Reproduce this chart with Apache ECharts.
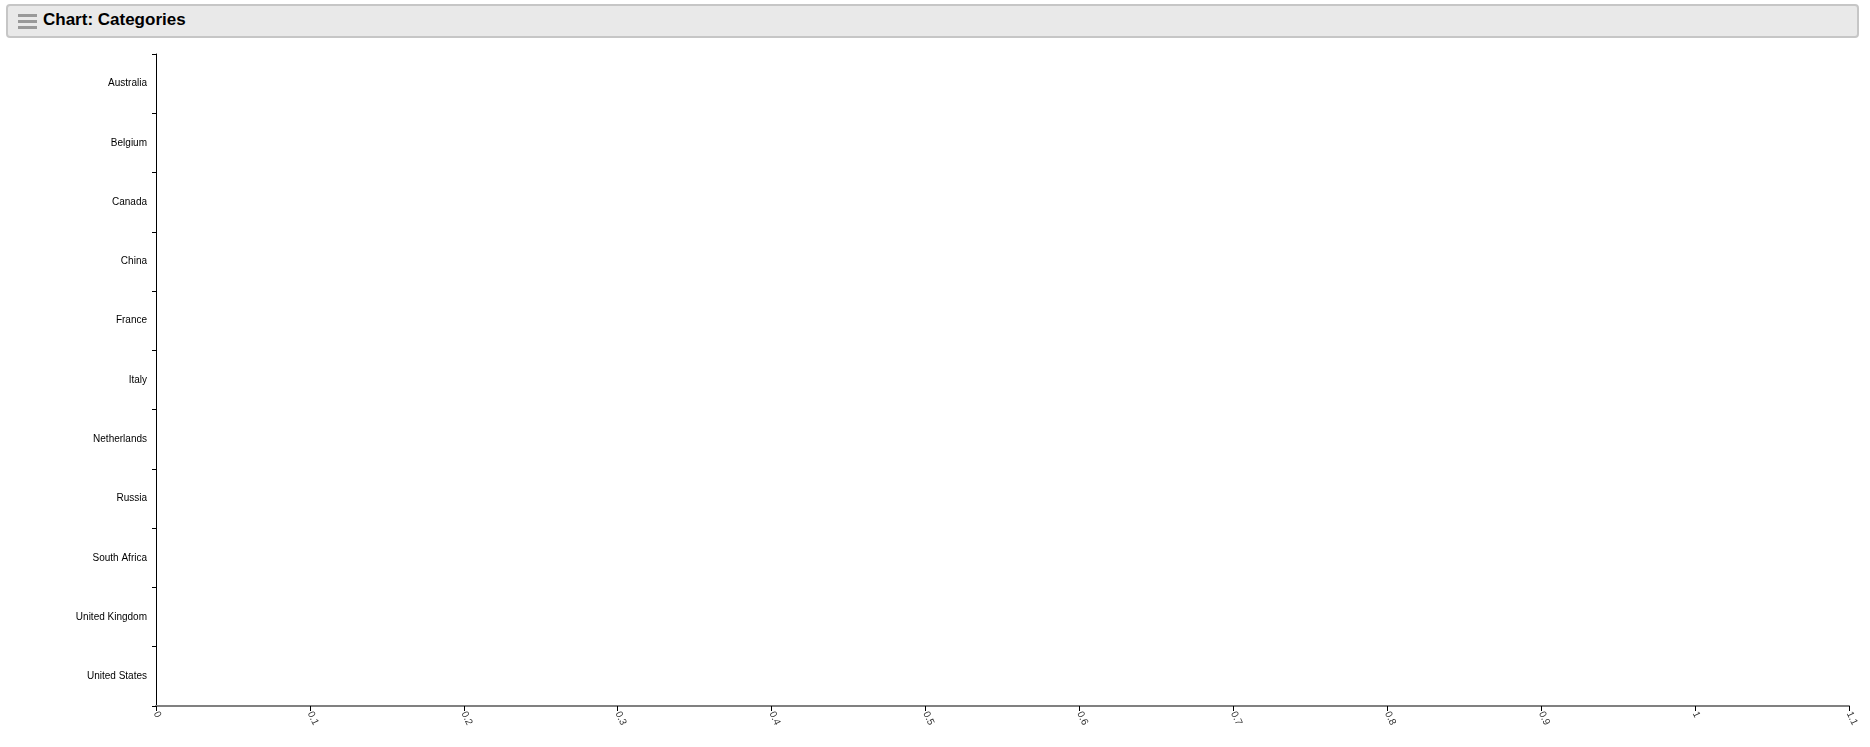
<!DOCTYPE html>
<html lang="en">
  <head>
    <title>Chart: Categories</title>
    <meta charset="UTF-8" />
    <script src="https://cdn.jsdelivr.net/npm/echarts@6/dist/echarts.min.js"></script>
    <style>
      body { margin: 0; background: #fff; font-family: "Liberation Sans", Arial, sans-serif; }
      #main { position: absolute; left: 0; top: 0; width: 1870px; height: 747px; }
      .head {
        position: absolute; left: 6px; top: 4px; width: 1849px; height: 30px;
        background: #e9e9e9; border: 2px solid #c6c6c6; border-radius: 4px; z-index: 2;
      }
      .burger { position: absolute; left: 10px; top: 8px; width: 19px; }
      .burger i { display: block; height: 3px; background: #999; margin-bottom: 3px; }
      .head span {
        position: absolute; left: 35px; top: 5px; font-size: 17px; line-height: 17px;
        font-weight: bold; color: #000;
      }
    </style>
  </head>
  <body>
    <div class="head">
      <div class="burger"><i></i><i></i><i></i></div>
      <span>Chart: Categories</span>
    </div>
    <div id="main"></div>
    <script>
      // categories down the y axis (top to bottom)
      var countries = ['Australia', 'Belgium', 'Canada', 'China', 'France', 'Italy',
        'Netherlands', 'Russia', 'South Africa', 'United Kingdom', 'United States'];
      // no bars are drawn in the picture
      var values = [0, 0, 0, 0, 0, 0, 0, 0, 0, 0, 0];
      // x axis range
      var xMin = 0, xMax = 1.1, xStep = 0.1;

      var myChart = echarts.init(document.getElementById('main'));
      var option = {
        animation: false,
        grid: { left: 156, top: 54, right: 21, bottom: 41 },
        xAxis: {
          type: 'value',
          min: xMin,
          max: xMax,
          interval: xStep,
          axisLine: { show: true, lineStyle: { color: '#808080', width: 2 } },
          axisTick: { show: true, length: 5, lineStyle: { color: '#000' } },
          splitLine: { show: false },
          axisLabel: {
            rotate: -65,
            margin: 6,
            fontSize: 10,
            color: '#333',
            fontFamily: 'Liberation Sans',
            formatter: function (v) { return String(Math.round(v * 10) / 10); }
          }
        },
        yAxis: {
          type: 'category',
          inverse: true,
          data: countries,
          axisLine: { show: true, lineStyle: { color: '#000', width: 1 } },
          axisTick: { show: true, length: 4, lineStyle: { color: '#000' } },
          axisLabel: {
            fontSize: 10, color: '#000', margin: 9, fontFamily: 'Liberation Sans',
            padding: [4, 0, 0, 0]
          }
        },
        series: [{
          type: 'bar',
          data: values,
          itemStyle: { color: '#4682b4' }
        }]
      };
      myChart.setOption(option);
    </script>
  </body>
</html>
